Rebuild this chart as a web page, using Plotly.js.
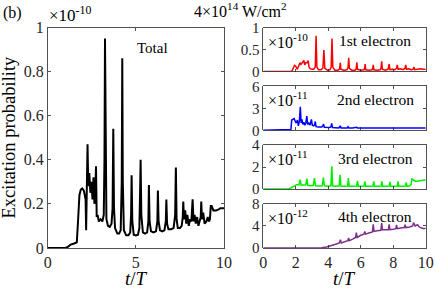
<!DOCTYPE html>
<html><head><meta charset="utf-8">
<script src="https://cdn.plot.ly/plotly-3.0.1.min.js"></script>
<style>html,body{margin:0;padding:0;background:#fff}#chart{width:436px;height:296px}</style>
</head><body><div id="chart"></div><script>
// Total excitation probability (units of 1e-10) vs t/T
const totalT = [0,1.0,1.15,1.3,1.5,1.65,1.72,1.8,1.88,1.96,2.05,2.1,2.15,2.18,2.22,2.26,2.3,2.36,2.42,2.48,2.54,2.6,2.65,2.7,2.74,2.78,2.83,2.9,3.0,3.1,3.18,3.22,3.25,3.28,3.33,3.42,3.52,3.62,3.68,3.72,3.76,3.82,3.95,4.05,4.14,4.2,4.23,4.26,4.32,4.45,4.58,4.68,4.73,4.76,4.8,4.88,5.0,5.12,5.2,5.24,5.27,5.31,5.4,5.52,5.64,5.71,5.74,5.78,5.86,6.0,6.14,6.22,6.25,6.29,6.37,6.5,6.62,6.7,6.73,6.77,6.85,7.0,7.14,7.23,7.27,7.31,7.38,7.5,7.6,7.66,7.69,7.73,7.8,7.86,7.92,8.0,8.08,8.15,8.19,8.22,8.27,8.33,8.4,8.47,8.55,8.62,8.68,8.71,8.75,8.82,8.9,9.0,9.08,9.15,9.2,9.25,9.3,9.4,9.55,9.7,9.8,9.9,10];
const totalV = [0,0,0.005,0.015,0.02,0.025,0.12,0.24,0.265,0.27,0.26,0.23,0.22,0.08,0.3,0.47,0.28,0.34,0.25,0.3,0.22,0.32,0.2,0.25,0.37,0.14,0.15,0.12,0.13,0.12,0.15,0.4,0.95,0.4,0.13,0.1,0.095,0.11,0.18,0.54,0.18,0.09,0.065,0.065,0.08,0.3,0.86,0.3,0.08,0.057,0.057,0.07,0.15,0.33,0.12,0.06,0.057,0.06,0.09,0.25,0.4,0.15,0.07,0.065,0.07,0.12,0.285,0.12,0.075,0.07,0.075,0.12,0.26,0.12,0.08,0.075,0.08,0.12,0.22,0.11,0.085,0.085,0.09,0.15,0.365,0.13,0.09,0.09,0.1,0.14,0.21,0.13,0.17,0.11,0.15,0.1,0.13,0.12,0.16,0.22,0.12,0.15,0.11,0.14,0.1,0.13,0.14,0.21,0.13,0.16,0.11,0.12,0.14,0.12,0.13,0.19,0.19,0.17,0.17,0.175,0.18,0.18,0.18];

// 1st electron (units of 1e-10)
const e1T = [0,1.7,1.78,1.85,1.92,2.0,2.08,2.15,2.2,2.26,2.32,2.38,2.45,2.5,2.55,2.62,2.7,2.76,2.82,2.9,3.0,3.1,3.2,3.25,3.3,3.4,3.55,3.67,3.73,3.79,3.95,4.1,4.18,4.23,4.28,4.4,4.6,4.7,4.74,4.78,4.95,5.15,5.22,5.26,5.3,5.45,5.65,5.72,5.76,5.8,6.0,6.2,6.24,6.27,6.31,6.5,6.7,6.74,6.77,6.81,7.0,7.2,7.25,7.29,7.33,7.5,7.68,7.75,7.8,7.95,8.1,8.2,8.25,8.3,8.45,8.6,8.72,8.77,8.82,8.95,9.1,9.22,9.28,9.33,9.5,9.7,9.85,10];
const e1V = [0,0,0.02,0.1,0.14,0.12,0.05,0.1,0.18,0.2,0.16,0.2,0.22,0.25,0.15,0.2,0.2,0.25,0.1,0.06,0.05,0.05,0.1,0.81,0.1,0.04,0.04,0.08,0.49,0.07,0.03,0.04,0.1,0.75,0.1,0.03,0.03,0.06,0.2,0.05,0.03,0.04,0.09,0.31,0.07,0.03,0.03,0.06,0.21,0.05,0.03,0.04,0.07,0.17,0.04,0.03,0.04,0.07,0.15,0.04,0.03,0.04,0.08,0.23,0.05,0.03,0.05,0.17,0.04,0.05,0.04,0.07,0.15,0.05,0.06,0.04,0.07,0.15,0.05,0.06,0.04,0.05,0.1,0.04,0.05,0.06,0.05,0.05];

// 2nd electron (units of 1e-11)
const e2T = [0,1.65,1.7,1.75,1.82,1.9,1.97,2.03,2.1,2.16,2.22,2.28,2.33,2.38,2.44,2.5,2.56,2.62,2.68,2.73,2.8,2.88,2.96,3.02,3.1,3.15,3.2,3.25,3.4,3.6,3.67,3.71,3.76,3.9,4.1,4.17,4.21,4.26,4.45,4.65,4.7,4.74,4.79,5.0,5.17,5.22,5.27,5.5,5.7,5.75,5.8,6.2,6.25,6.3,6.7,6.76,6.82,7.3,8.0,9.0,10];
const e2V = [0,0,0.1,1.4,1.5,1.6,1.2,1.0,1.4,0.6,1.2,3.2,1.0,1.5,0.8,1.1,0.7,1.0,1.95,0.8,1.0,0.7,1.5,0.7,0.6,0.7,1.2,0.5,0.45,0.45,0.6,0.85,0.4,0.35,0.38,0.5,0.95,0.38,0.33,0.33,0.45,0.6,0.33,0.3,0.33,0.5,0.3,0.3,0.32,0.4,0.3,0.3,0.36,0.3,0.3,0.34,0.3,0.32,0.32,0.33,0.33];

// 3rd electron (units of 1e-11)
const e3T = [0,1.5,1.7,1.9,2.05,2.2,2.27,2.33,2.5,2.62,2.68,2.74,2.9,3.08,3.15,3.21,3.4,3.63,3.7,3.76,3.95,4.16,4.22,4.27,4.45,4.67,4.73,4.78,5.0,5.19,5.24,5.29,5.5,5.74,5.8,5.85,6.05,6.2,6.25,6.3,6.55,6.75,6.8,6.85,7.05,7.25,7.3,7.35,7.55,7.75,7.8,7.85,8.05,8.25,8.3,8.35,8.55,8.75,8.8,8.85,9.0,9.1,9.15,9.25,9.4,9.6,9.8,10];
const e3V = [0,0,0.1,0.25,0.4,0.4,0.85,0.35,0.35,0.4,0.95,0.35,0.3,0.35,1.0,0.3,0.28,0.3,1.05,0.3,0.25,0.3,2.07,0.3,0.25,0.3,1.3,0.28,0.25,0.28,1.0,0.25,0.25,0.28,0.75,0.25,0.25,0.27,0.7,0.25,0.25,0.27,0.7,0.25,0.25,0.27,0.7,0.25,0.25,0.27,0.65,0.25,0.25,0.27,0.7,0.25,0.25,0.27,0.6,0.25,0.28,0.4,0.95,0.8,0.7,0.75,0.85,0.85];

// 4th electron (units of 1e-12)
const e4T = [0,3.3,3.6,3.9,4.1,4.3,4.5,4.68,4.75,4.8,5.0,5.2,5.25,5.3,5.5,5.68,5.73,5.78,6.0,6.2,6.25,6.3,6.5,6.72,6.77,6.82,7.0,7.24,7.29,7.34,7.5,7.7,7.75,7.8,8.0,8.16,8.2,8.25,8.45,8.68,8.73,8.78,9.0,9.2,9.25,9.35,9.5,9.6,9.75,9.9,10];
const e4V = [0,0,0.05,0.15,0.3,0.5,0.7,0.9,1.5,0.9,1.1,1.3,1.8,1.3,1.6,1.9,2.8,1.9,2.3,2.5,3.0,2.5,2.7,2.9,4.3,3.0,3.1,3.2,4.5,3.3,3.3,3.3,4.3,3.3,3.4,3.5,4.2,3.5,3.6,3.7,4.2,3.7,3.8,4.0,4.6,4.0,4.2,3.8,3.6,3.5,3.6];

const leftXTicks = [0,5,10];
const leftYTicks = [0,0.2,0.4,0.6,0.8,1];
const rightXTicks = [0,2,4,6,8,10];
const panelYTicks = [[0,0.5,1],[0,3,6],[0,2,4],[0,4,8]];
const panelYMax = [1,6,4,8];
const panelNames = ['1st electron','2nd electron','3rd electron','4th electron'];
const panelExp = ['-10','-11','-11','-12'];
const panelColors = ['#ff0000','#0000ff','#00ee00','#7e2f8e'];

const W = 436, H = 296;
const px = v => v / W, py = v => 1 - v / H;
const FONT = 'Liberation Serif, Times New Roman, serif';
const AX = '#262626';

function axis(extra) {
  return Object.assign({
    showline: true, mirror: 'ticks', ticks: 'inside', ticklen: 3, tickwidth: 0.8,
    tickcolor: AX, linecolor: AX, linewidth: 0.8, showgrid: false, zeroline: false,
    tickfont: {family: FONT, size: 16, color: AX}, fixedrange: true
  }, extra);
}

const traces = [
  {x: totalT, y: totalV, type: 'scatter', mode: 'lines', line: {color: '#000', width: 2}, xaxis: 'x', yaxis: 'y', hoverinfo: 'skip'}
];
const series = [[e1T,e1V],[e2T,e2V],[e3T,e3V],[e4T,e4V]];
series.forEach((s, i) => {
  traces.push({x: s[0], y: s[1], type: 'scatter', mode: 'lines', line: {color: panelColors[i], width: 1.5},
    xaxis: 'x' + (i + 2), yaxis: 'y' + (i + 2), hoverinfo: 'skip'});
});

const panelTop = [27.5, 86.3, 145.1, 203.9];
const panelH = 44;
const layout = {
  width: W, height: H, margin: {l: 0, r: 0, t: 0, b: 0},
  paper_bgcolor: '#fff', plot_bgcolor: '#fff', showlegend: false,
  font: {family: FONT, color: AX},
  xaxis: axis({domain: [px(47.7), px(224)], range: [0, 10], tickvals: leftXTicks, anchor: 'y'}),
  yaxis: axis({domain: [py(247.9), py(27.5)], range: [0, 1], tickvals: leftYTicks, anchor: 'x'}),
  annotations: []
};
for (let i = 0; i < 4; i++) {
  const n = i + 2;
  layout['xaxis' + n] = axis({domain: [px(263.3), px(425.7)], range: [0, 10], tickvals: rightXTicks,
    anchor: 'y' + n, showticklabels: i === 3});
  layout['yaxis' + n] = axis({domain: [py(panelTop[i] + panelH), py(panelTop[i])], range: [0, panelYMax[i]],
    tickvals: panelYTicks[i], anchor: 'x' + n, tickfont: {family: FONT, size: 15, color: AX}});
  layout.annotations.push({xref: 'paper', yref: 'paper', x: px(266), y: py(panelTop[i] + 13), xanchor: 'left', yanchor: 'middle',
    text: '×10<sup>' + panelExp[i] + '</sup>', showarrow: false, font: {family: FONT, size: 16, color: '#000'}});
  layout.annotations.push({xref: 'paper', yref: 'paper', x: px(375), y: py(panelTop[i] + 13), xanchor: 'center', yanchor: 'middle',
    text: panelNames[i], showarrow: false, font: {family: FONT, size: 15.5, color: '#000'}});
}
layout.annotations.push(
  {xref: 'paper', yref: 'paper', x: px(1), y: py(13), xanchor: 'left', yanchor: 'middle', text: '(b)', showarrow: false, font: {family: FONT, size: 16, color: '#000'}},
  {xref: 'paper', yref: 'paper', x: px(47), y: py(14), xanchor: 'left', yanchor: 'middle', text: '×10<sup>-10</sup>', showarrow: false, font: {family: FONT, size: 17, color: '#000'}},
  {xref: 'paper', yref: 'paper', x: px(193), y: py(10), xanchor: 'left', yanchor: 'middle', text: '4×10<sup>14</sup> W/cm<sup>2</sup>', showarrow: false, borderpad: 0, font: {family: FONT, size: 16, color: '#000'}},
  {xref: 'paper', yref: 'paper', x: px(152.5), y: py(48), xanchor: 'center', yanchor: 'middle', text: 'Total', showarrow: false, font: {family: FONT, size: 15, color: '#000'}},
  {xref: 'paper', yref: 'paper', x: px(9), y: py(137.5), xanchor: 'center', yanchor: 'middle', textangle: -90, text: 'Excitation probability', showarrow: false, font: {family: FONT, size: 18.5, color: '#000'}},
  {xref: 'paper', yref: 'paper', x: px(136), y: py(278), xanchor: 'center', yanchor: 'middle', text: '<i>t</i>/<i>T</i>', showarrow: false, font: {family: FONT, size: 19, color: '#000'}},
  {xref: 'paper', yref: 'paper', x: px(344), y: py(278), xanchor: 'center', yanchor: 'middle', text: '<i>t</i>/<i>T</i>', showarrow: false, font: {family: FONT, size: 19, color: '#000'}}
);

Plotly.newPlot('chart', traces, layout, {staticPlot: true, displayModeBar: false});
</script></body></html>
